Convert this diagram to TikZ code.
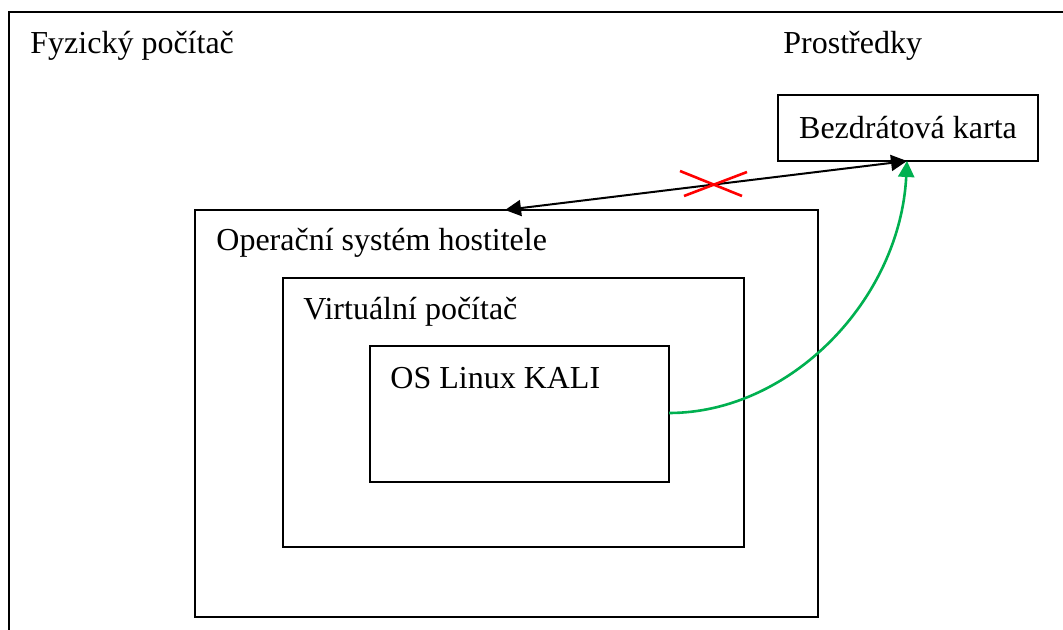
\documentclass[tikz,border=0pt]{standalone}
\usepackage{fontspec}
\setmainfont{Liberation Serif}
\usetikzlibrary{arrows.meta,fit}
\definecolor{offgreen}{RGB}{0,176,80}
\tikzset{
  box/.style={draw=black, line width=1pt, inner sep=0pt, fill=none},
  lbl/.style={anchor=base west, inner sep=0pt, font=\fontsize{16}{19}\selectfont},
  >={Triangle[length=8pt,width=8pt]},
}
\begin{document}
\begin{tikzpicture}[x=0.5pt,y=-0.5pt]
\useasboundingbox (0,0) rectangle (1063,630);
\clip (0,0) rectangle (1063,630);
\fill[white] (0,0) rectangle (1063,630);
% outer frame (runs past the right and bottom edges)
\node[box, fit={(9,12.5) (1090,660)}] (pc) {};
\node[lbl] (pclbl) at (30,54) {Fyzický počítač};
\node[lbl] (reslbl) at (783,54) {Prostředky};
% wireless card
\node[box, fit={(778,95) (1038,161)}] (card) {};
\node[font=\fontsize{16}{19}\selectfont, inner sep=0pt] (cardlbl) at (card.center) {Bezdrátová karta};
% nested boxes
\node[box, fit={(195,210) (818,617)}] (host) {};
\node[lbl] (hostlbl) at (216,251) {Operační systém hostitele};
\node[box, fit={(283,278) (744,547)}] (vm) {};
\node[lbl] (vmlbl) at (303,319) {Virtuální počítač};
\node[box, fit={(370,346) (669,482)}] (kali) {};
\node[lbl] (kalilbl) at (390,388) {OS Linux KALI};
% connector endpoints
\coordinate (hostA) at (505,210);
\coordinate (cardA) at (907,161);
\coordinate (kaliA) at (669,413);
% blocked link
\draw[line width=1pt, <->] (hostA) -- (cardA);
\draw[red, line width=1.3pt] (680,171) -- (742,196);
\draw[red, line width=1.3pt] (684,196) -- (747,172);
% virtual link
\draw[offgreen, line width=1.3pt, ->] (kaliA) .. controls (790,413) and (900,300) .. (cardA);
\end{tikzpicture}
\end{document}
